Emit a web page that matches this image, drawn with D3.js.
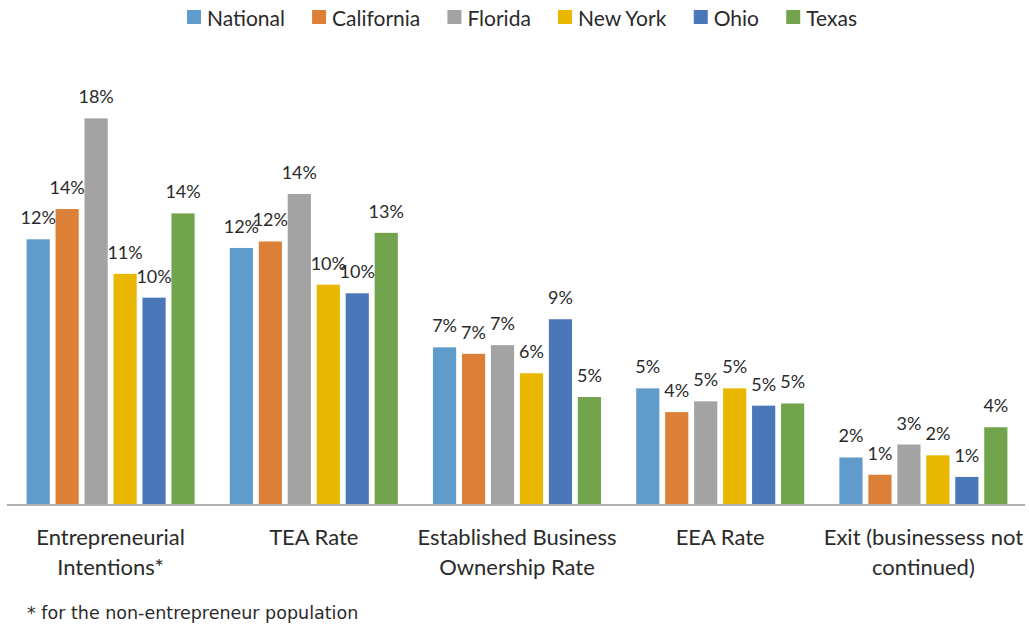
<!DOCTYPE html>
<html>
<head>
<meta charset="utf-8">
<script src="https://cdn.jsdelivr.net/npm/d3@7"></script>
<style>
  html, body { margin: 0; padding: 0; background: #fff; }
  svg { display: block; }
  text { font-family: Lato, "Open Sans", sans-serif; fill: #2a2a2a; }
</style>
</head>
<body>
<svg id="chart" width="1029" height="627"></svg>
<script>
// ---- data ----
const categories = ["Entrepreneurial Intentions*", "TEA Rate", "Established Business Ownership Rate", "EEA Rate", "Exit (businessess not continued)"];
const categoryLines = [["Entrepreneurial", "Intentions*"], ["TEA Rate"], ["Established Business", "Ownership Rate"], ["EEA Rate"], ["Exit (businessess not", "continued)"]];
const seriesNames = ["National", "California", "Florida", "New York", "Ohio", "Texas"];
const seriesColors = ["#5f9ccb", "#dc7f37", "#a3a3a3", "#e9b600", "#4a76ba", "#72a44d"];
const national   = [12.3, 11.9, 7.3, 5.4, 2.2];
const california = [13.7, 12.2, 7.0, 4.3, 1.4];
const florida    = [17.9, 14.4, 7.4, 4.8, 2.8];
const newYork    = [10.7, 10.2, 6.1, 5.4, 2.3];
const ohio       = [9.6, 9.8, 8.6, 4.6, 1.3];
const texas      = [13.5, 12.6, 5.0, 4.7, 3.6];
const footnote = "* for the non-entrepreneur population";

const seriesValues = [national, california, florida, newYork, ohio, texas];

const svg = d3.select("#chart");
const W = 1029, H = 627;
svg.append("rect").attr("width", W).attr("height", H).attr("fill", "#fff");

const baseY = 505, left = 9, right = 1025;

const x0 = d3.scaleBand().domain(categories).range([left, right]).paddingInner(0.173).paddingOuter(0.0865);
const x1 = d3.scaleBand().domain(seriesNames).range([0, x0.bandwidth()]).paddingInner(0.2);
const y = d3.scaleLinear().domain([0, 20]).range([baseY, 73]);
const color = d3.scaleOrdinal().domain(seriesNames).range(seriesColors);

const rows = [];
categories.forEach((c, ci) => {
  seriesNames.forEach((s, si) => rows.push({ cat: c, ser: s, v: seriesValues[si][ci] }));
});

// bars
const g = svg.append("g");
g.selectAll("rect.bar").data(rows).join("rect")
  .attr("class", "bar")
  .attr("x", d => x0(d.cat) + x1(d.ser))
  .attr("y", d => y(d.v))
  .attr("width", x1.bandwidth())
  .attr("height", d => y(0) - y(d.v))
  .attr("fill", d => color(d.ser));

// value labels
g.selectAll("text.lbl").data(rows).join("text")
  .attr("class", "lbl")
  .attr("x", d => x0(d.cat) + x1(d.ser) + x1.bandwidth() / 2)
  .attr("y", d => y(d.v) - 15)
  .attr("text-anchor", "middle")
  .style("font-size", "18px")
  .text(d => Math.round(d.v) + "%");

// axis
const axis = svg.append("g").attr("transform", `translate(0,${baseY})`)
  .call(d3.axisBottom(x0).tickSize(0).tickSizeOuter(0).tickPadding(0));
axis.select(".domain").attr("stroke", "#b0b0b0").attr("stroke-width", 2)
  .attr("d", `M${left - 2},0H${right}`);
axis.selectAll(".tick text").each(function(d, i) {
  const t = d3.select(this);
  t.text(null).attr("y", 0).attr("dy", null)
   .style("font-size", "22px").attr("fill", "#2a2a2a");
  categoryLines[i].forEach((line, li) => {
    t.append("tspan").attr("x", 0).attr("y", 40 + li * 30).text(line);
  });
});

// legend
const legend = svg.append("g");
const items = legend.selectAll("g").data(seriesNames).join("g");
items.append("rect").attr("width", 14).attr("height", 14).attr("y", 10).attr("fill", d => color(d));
items.append("text").attr("x", 20).attr("y", 26).style("font-size", "21px").text(d => d);
const widths = [];
items.each(function() { widths.push(this.getBBox().width); });
const legStart = 187, legEnd = 857;
const gap = (legEnd - legStart - d3.sum(widths)) / (seriesNames.length - 1);
let cx = legStart;
items.attr("transform", (d, i) => { const t = `translate(${cx},0)`; cx += widths[i] + gap; return t; });

// footnote
svg.append("text").attr("x", 27).attr("y", 619)
  .style("font-family", "'DejaVu Sans', sans-serif").style("font-size", "17.5px").attr("fill", "#3a3a3a")
  .text(footnote);
</script>
</body>
</html>
